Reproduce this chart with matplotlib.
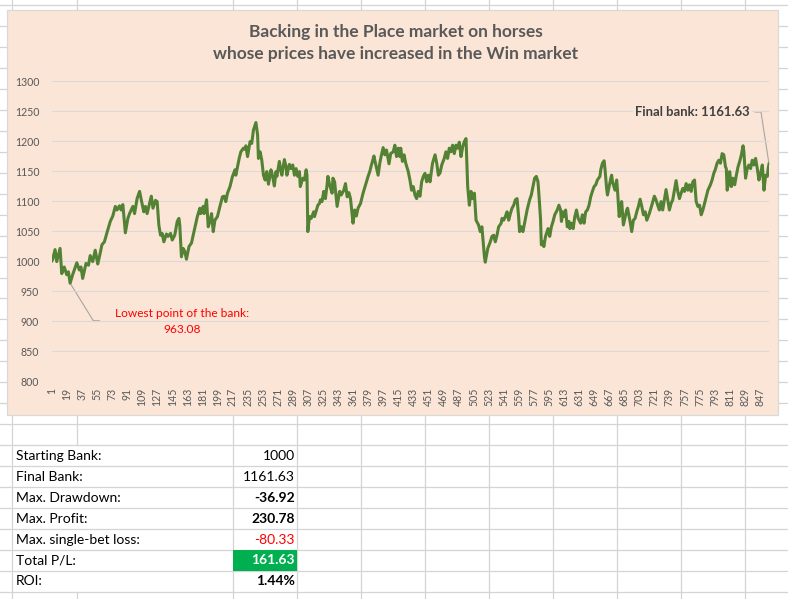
import matplotlib
matplotlib.use("Agg")
import matplotlib.pyplot as plt
from matplotlib.patches import Rectangle

W, H = 788, 599

# bet number / bank value
bet_no = [1, 2, 5, 7, 11, 13, 16, 19, 21, 23, 26, 31, 34, 36, 38, 42, 45, 47, 50, 53,
          56, 58, 61, 64, 67, 71, 74, 77, 79, 82, 84, 86, 89, 92, 94, 96, 98, 100, 103, 106,
          108, 111, 113, 115, 118, 120, 122, 125, 127, 129, 131, 133, 135, 138, 140, 143, 145, 148, 151, 153,
          154, 156, 158, 160, 162, 165, 168, 171, 175, 178, 179, 182, 183, 186, 188, 190, 192, 194, 196, 199,
          202, 205, 207, 209, 211, 214, 217, 220, 221, 225, 227, 230, 232, 233, 235, 238, 240, 242, 245, 247,
          248, 250, 252, 254, 256, 258, 260, 263, 265, 267, 269, 270, 273, 275, 276, 279, 281, 282, 285, 287,
          289, 291, 293, 295, 297, 298, 301, 303, 305, 306, 307, 309, 311, 314, 315, 319, 321, 322, 324, 326,
          328, 330, 331, 333, 336, 337, 339, 342, 345, 347, 350, 352, 354, 356, 358, 361, 363, 365, 367, 370,
          373, 376, 379, 381, 383, 386, 387, 391, 393, 395, 397, 399, 401, 404, 406, 409, 411, 413, 415, 417,
          418, 420, 422, 424, 427, 429, 431, 433, 435, 437, 439, 441, 443, 445, 447, 449, 451, 453, 455, 456,
          459, 461, 463, 465, 467, 470, 472, 474, 476, 478, 480, 482, 484, 486, 488, 490, 492, 494, 496, 498,
          500, 502, 504, 506, 508, 511, 513, 515, 518, 519, 522, 525, 527, 529, 531, 533, 535, 538, 539, 541,
          543, 545, 547, 549, 551, 553, 555, 557, 559, 560, 562, 564, 567, 569, 572, 574, 576, 578, 580, 582,
          583, 585, 586, 588, 589, 591, 594, 596, 598, 600, 602, 605, 607, 609, 610, 612, 614, 615, 617, 619,
          620, 622, 624, 626, 628, 630, 633, 635, 637, 639, 641, 643, 645, 647, 649, 651, 653, 656, 657, 659,
          661, 662, 664, 665, 667, 669, 670, 671, 674, 676, 677, 679, 681, 682, 684, 688, 689, 692, 694, 696,
          698, 700, 702, 704, 706, 708, 710, 712, 715, 718, 721, 723, 725, 727, 729, 731, 733, 735, 737, 739,
          741, 743, 745, 747, 749, 751, 753, 755, 757, 759, 761, 763, 765, 767, 769, 771, 773, 775, 777, 779,
          781, 783, 785, 787, 788, 790, 792, 794, 796, 798, 800, 802, 804, 806, 807, 808, 810, 811, 813, 815,
          817, 819, 821, 823, 825, 827, 828, 830, 832, 834, 836, 838, 840, 842, 844, 846, 848, 850, 852, 854,
          856, 857, 858]
bank = [1000, 1002, 1019, 999, 1021, 979, 990, 977, 982, 963.08, 977, 997, 985, 990, 971, 996, 993, 1009, 999, 1018,
        995, 1007, 1027, 1032, 1047, 1066, 1075, 1091, 1085, 1092, 1085, 1094, 1047, 1071, 1079, 1085, 1091, 1079, 1104, 1116,
        1102, 1082, 1091, 1079, 1096, 1108, 1088, 1101, 1099, 1060, 1043, 1046, 1032, 1045, 1041, 1046, 1035, 1043, 1066, 1071,
        1060, 1007, 1021, 1016, 1003, 1024, 1030, 1049, 1074, 1088, 1079, 1091, 1079, 1102, 1057, 1066, 1079, 1049, 1068, 1074,
        1091, 1107, 1108, 1099, 1113, 1124, 1141, 1152, 1143, 1171, 1182, 1188, 1186, 1192, 1174, 1199, 1196, 1218, 1230.78, 1210,
        1171, 1182, 1168, 1143, 1135, 1149, 1128, 1152, 1141, 1125, 1149, 1141, 1166, 1149, 1143, 1169, 1157, 1143, 1161, 1154,
        1160, 1143, 1154, 1141, 1149, 1124, 1138, 1135, 1152, 1143, 1049, 1074, 1071, 1082, 1074, 1093, 1096, 1102, 1099, 1116,
        1104, 1127, 1141, 1127, 1113, 1138, 1132, 1091, 1116, 1110, 1118, 1129, 1107, 1114, 1104, 1063, 1085, 1075, 1088, 1096,
        1113, 1127, 1141, 1149, 1160, 1175, 1168, 1143, 1163, 1177, 1189, 1177, 1185, 1162, 1179, 1182, 1193, 1174, 1188, 1174,
        1188, 1166, 1177, 1163, 1149, 1135, 1118, 1124, 1110, 1104, 1116, 1108, 1132, 1141, 1146, 1132, 1143, 1132, 1152, 1163,
        1177, 1163, 1143, 1147, 1160, 1171, 1182, 1171, 1188, 1182, 1193, 1179, 1193, 1188, 1198, 1174, 1190, 1199, 1204, 1124,
        1093, 1116, 1104, 1113, 1068, 1060, 1049, 1057, 1007, 998, 1021, 1032, 1041, 1043, 1032, 1043, 1057, 1063, 1071, 1068,
        1074, 1082, 1068, 1079, 1088, 1093, 1102, 1104, 1071, 1049, 1057, 1049, 1071, 1085, 1102, 1110, 1124, 1138, 1141, 1132,
        1113, 1071, 1027, 1032, 1024, 1041, 1054, 1041, 1057, 1066, 1077, 1085, 1093, 1085, 1066, 1082, 1074, 1085, 1057, 1066,
        1054, 1063, 1054, 1074, 1085, 1071, 1063, 1077, 1063, 1082, 1085, 1093, 1107, 1116, 1124, 1127, 1135, 1141, 1152, 1163,
        1167, 1154, 1121, 1110, 1124, 1138, 1143, 1132, 1118, 1135, 1118, 1074, 1093, 1099, 1060, 1085, 1088, 1066, 1049, 1068,
        1071, 1082, 1091, 1103, 1091, 1077, 1082, 1068, 1079, 1093, 1108, 1102, 1093, 1085, 1099, 1085, 1102, 1119, 1102, 1085,
        1096, 1102, 1118, 1134, 1116, 1104, 1113, 1121, 1116, 1129, 1118, 1127, 1116, 1132, 1135, 1099, 1091, 1093, 1077, 1085,
        1096, 1107, 1118, 1124, 1127, 1135, 1146, 1153, 1163, 1168, 1163, 1179, 1177, 1157, 1154, 1118, 1132, 1149, 1124, 1138,
        1127, 1143, 1157, 1166, 1177, 1192, 1182, 1138, 1154, 1160, 1154, 1168, 1160, 1171, 1154, 1135, 1146, 1160, 1118, 1143,
        1141, 1154, 1161.63]

y_ticks = [800, 850, 900, 950, 1000, 1050, 1100, 1150, 1200, 1250, 1300]
x_ticks = list(range(1, 848, 18))

title_lines = ["Backing in the Place market on horses",
               "whose prices have increased in the Win market"]

stat_labels = ["Starting Bank:", "Final Bank:", "Max. Drawdown:", "Max. Profit:",
               "Max. single-bet loss:", "Total P/L:", "ROI:"]
stat_values = ["1000", "1161.63", "-36.92", "230.78", "-80.33", "161.63", "1.44%"]
stat_bold = [False, False, True, True, False, True, True]
stat_colors = ["black", "black", "black", "black", "#FF0000", "white", "black"]

FONT = "Lato"
GRID = "#D4D4D4"
TXT = "#595959"
PEACH = "#FBE5D6"

fig = plt.figure(figsize=(W / 100, H / 100), dpi=100)
fig.patch.set_facecolor("white")

# spreadsheet background
bg = fig.add_axes([0, 0, 1, 1])
bg.set_xlim(0, W)
bg.set_ylim(H, 0)
bg.axis("off")

col_x = [12.3, 76.7, 233.3, 297.3, 361.3, 425.3, 489.3, 553.3, 617.3, 681.3, 745.3]
row_y = [445 + 20.93 * k for k in range(-21, 8)]
for y in row_y:
    bg.plot([0, W], [y, y], color=GRID, lw=0.9, zorder=1)
for x in col_x:
    if x == 76.7:
        bg.plot([x, x], [0, 445], color=GRID, lw=0.9, zorder=1)
        bg.plot([x, x], [591.5, H], color=GRID, lw=0.9, zorder=1)
    else:
        bg.plot([x, x], [0, H], color=GRID, lw=0.9, zorder=1)

# chart area
bg.add_patch(Rectangle((7.5, 9.5), 771, 405.5, facecolor=PEACH,
                       edgecolor="#D9D9D9", lw=0.9, zorder=2))

for i, line in enumerate(title_lines):
    bg.text(396, [36.7, 59.3][i], line, ha="center", va="baseline",
            fontsize=12.5, fontweight="bold", color=TXT, family=FONT, zorder=5)

# plot area
left, right, top, bottom = 51.7, 769, 81, 381
ax = fig.add_axes([left / W, 1 - bottom / H, (right - left) / W, (bottom - top) / H])
ax.set_facecolor("none")
ax.plot(bet_no, bank, color="#548235", lw=2.2, solid_joinstyle="round", zorder=3)
ax.set_xlim(1, 858)
ax.set_ylim(800, 1300)
ax.set_yticks(y_ticks)
ax.set_xticks(x_ticks)
ax.set_xticklabels([str(t) for t in x_ticks], rotation=90)
for s in ax.spines.values():
    s.set_visible(False)
ax.grid(axis="y", color="#D9D9D9", lw=0.8, zorder=0)
ax.tick_params(axis="y", length=0, pad=9, labelsize=7.6, labelcolor=TXT)
ax.tick_params(axis="x", length=0, pad=5, labelsize=7.6, labelcolor=TXT)
for lab in ax.get_xticklabels() + ax.get_yticklabels():
    lab.set_family(FONT)

# data labels with leader lines, placed at figure level so they sit above the plot
to_px = ax.transData + bg.transData.inverted()
fx, fy = to_px.transform((bet_no[-1], bank[-1]))
bg.plot([755, 761, fx], [112, 112, fy], color="#A6A6A6", lw=0.8, zorder=6)
fig.text(750, 112, "Final bank: 1161.63", ha="right", va="center", fontsize=9.4,
         fontweight="bold", color="#404040", family=FONT, zorder=6,
         transform=bg.transData,
         bbox=dict(boxstyle="square,pad=0.15", facecolor=PEACH, edgecolor="none"))

low_i = bank.index(min(bank))
lx, ly = to_px.transform((bet_no[low_i], bank[low_i]))
bg.plot([lx, 93.3, 99.3], [ly, 320.7, 320.7], color="#A6A6A6", lw=0.8, zorder=6)
fig.text(181.7, 321.5, "Lowest point of the bank:\n963.08", ha="center", va="center",
         fontsize=8.6, color="#FF0000", family=FONT, linespacing=1.45, zorder=6,
         transform=bg.transData)

# stats table
bg.add_patch(Rectangle((233.3, 550.2), 64, 20.9, facecolor="#00B050", edgecolor="none", zorder=3))
for i in range(len(stat_labels)):
    yc = 445 + 20.93 * i + 10.8
    bg.text(15.7, yc, stat_labels[i], ha="left", va="center", fontsize=10,
            color="black", family=FONT, zorder=4)
    bg.text(294.7, yc, stat_values[i], ha="right", va="center", fontsize=10,
            color=stat_colors[i], fontweight="bold" if stat_bold[i] else "normal",
            family=FONT, zorder=4)

fig.savefig("out.png", dpi=100)
